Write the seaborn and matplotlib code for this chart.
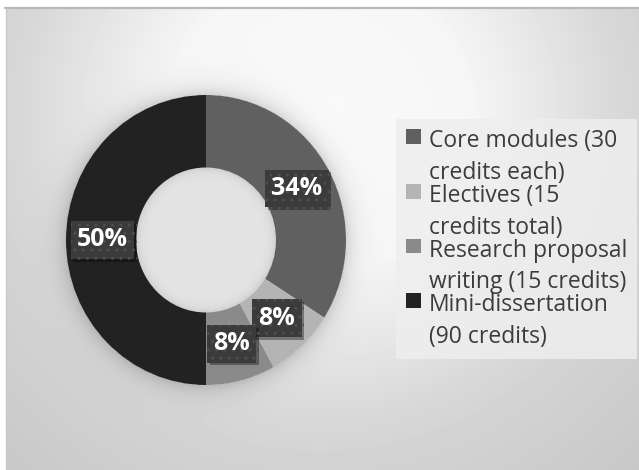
import textwrap
import numpy as np
import pandas as pd
import matplotlib
matplotlib.use("Agg")
import matplotlib.pyplot as plt
from matplotlib import patheffects as pe
import seaborn as sns

# ---- data ----
categories = [
    "Core modules (30 credits each)",
    "Electives (15 credits total)",
    "Research proposal writing (15 credits)",
    "Mini-dissertation (90 credits)",
]
shares = [34, 8, 8, 50]
colors = ["#606060", "#b4b4b4", "#8a8a8a", "#222222"]

df = pd.DataFrame({"category": categories, "share": shares})

sns.set_theme(style="white")
plt.rcParams["font.family"] = ["Open Sans", "DejaVu Sans"]

W, H = 639, 470
fig = plt.figure(figsize=(W / 100, H / 100), dpi=100, facecolor="white")

# ---- background (radial gradient + soft shadow of the ring) ----
cx, cy, rx, ry = 206, 240, 140, 145
bg = fig.add_axes([0, 0, 1, 1])
bg.set_xlim(0, W)
bg.set_ylim(H, 0)
bg.axis("off")
xs = np.arange(6, W) + 0.5
ys = np.arange(9, H) + 0.5
X, Y = np.meshgrid(xs, ys)
d = np.hypot(X - 320, Y - 120)
img = np.interp(d, [0, 150, 300, 340, 480, 700], [250, 246, 216, 211, 199, 194])
rn = np.hypot((X - cx) / rx, (Y - cy) / ry)
d_out = (rn - 1.0) * 142
d_in = (0.5 - rn) * 142
img -= np.where(d_out > 0, 35 * np.exp(-d_out / 10.0), 0)
hole = 228 - 22 * np.exp(-np.clip(d_in, 0, None) / 5.0)
img = np.where(rn < 0.53, hole, img)
bg.imshow(img, cmap="gray", vmin=0, vmax=255, extent=(6, W, H, 9),
          interpolation="bilinear", aspect="auto")
bg.plot([5, W], [8, 8], color="#b9b9b9", lw=1.6)
bg.plot([5.5, 5.5], [8, H], color="#c9c9c9", lw=1.0)

# ---- donut ----
ax = fig.add_axes([(cx - rx) / W, 1 - (cy + ry) / H, 2 * rx / W, 2 * ry / H])
wedges, texts, autotexts = ax.pie(
    df["share"], colors=colors, startangle=90, counterclock=False, radius=1,
    wedgeprops=dict(width=0.5, linewidth=0),
    autopct=lambda p: f"{p:.0f}%", pctdistance=0.74,
    textprops=dict(color="white", fontsize=18, fontweight="bold"),
)
ax.set_aspect("auto")
ax.set_xlim(-1, 1)
ax.set_ylim(-1, 1)
for t in autotexts:
    t.set_bbox(dict(boxstyle="square,pad=0.25", fc="#3b3b3b", ec="#4e4e4e",
                    lw=0, hatch=".."))
    t.get_bbox_patch().set_path_effects(
        [pe.SimplePatchShadow(offset=(2, -2), shadow_rgbFace="black", alpha=0.35),
         pe.Normal()])

# ---- legend ----
labels = [textwrap.fill(c, 20) for c in df["category"]]
leg = ax.legend(
    wedges, labels, loc="upper left",
    bbox_to_anchor=(396 / W, 1 - 119 / H), bbox_transform=fig.transFigure,
    frameon=True, fancybox=False, facecolor="#eeeeee", edgecolor="none",
    framealpha=0.85, fontsize=16.5, handlelength=0.62, handleheight=0.62,
    handletextpad=0.35, labelspacing=-0.05, borderpad=0.45, borderaxespad=0,
)
for t in leg.get_texts():
    t.set_color("#3c3c3c")
    t.set_linespacing(1.43)
for col in leg._legend_handle_box.get_children():
    for item in col.get_children():
        item.align = "top"

fig.savefig("out.png", dpi=100, facecolor="white")
